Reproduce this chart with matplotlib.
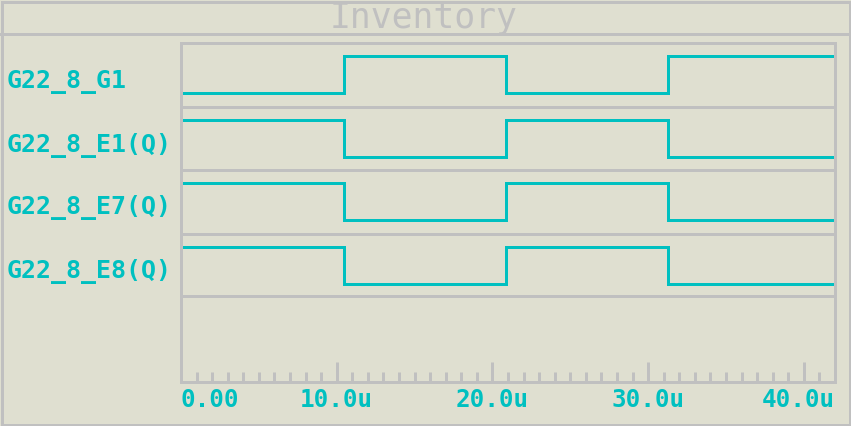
#!/usr/bin/env python3
"""Digital timing view 'Inventory' (logic analyser style)."""

import matplotlib
matplotlib.use("Agg")
import matplotlib.pyplot as plt
from matplotlib.patches import Rectangle

BG = "#dfdfd0"
GREY = "#c0c0c0"
CYAN = "#00c0c0"
MONO = "DejaVu Sans Mono"

# ---- data -------------------------------------------------------------
signal_names = ["G22_8_G1", "G22_8_E1(Q)", "G22_8_E7(Q)", "G22_8_E8(Q)"]
edge_times = [0.0, 10.45, 20.9, 31.3, 42.0]   # microseconds
g1_levels = [0, 1, 0, 1]
e1_levels = [1, 0, 1, 0]
e7_levels = [1, 0, 1, 0]
e8_levels = [1, 0, 1, 0]
tick_values = [0, 10, 20, 30, 40]
tick_labels = ["0.00", "10.0u", "20.0u", "30.0u", "40.0u"]
t_end = 42.0

# ---- layout (pixels on a 851x426 canvas) ------------------------------
W, H = 851, 426
PL, PR, PT, PB = 181, 835, 43, 382
row_tops = [43, 107, 170, 234]
separators = [107, 170, 234, 296]
LW = 2.16  # 3 px

fig = plt.figure(figsize=(W / 100, H / 100), dpi=100, facecolor=BG)

bg = fig.add_axes([0, 0, 1, 1])
bg.set_xlim(0, W)
bg.set_ylim(H, 0)
bg.axis("off")
bg.add_patch(Rectangle((1.5, 1.5), W - 3, H - 3, fill=False, ec=GREY, lw=LW))
bg.plot([0, W], [34, 34], color=GREY, lw=LW)
bg.text(424, 28, "Inventory", ha="center", va="baseline", color=GREY,
        fontsize=25, family=MONO)

for top, name in zip(row_tops, signal_names):
    bg.text(7, top + 44.5, name, ha="left", va="baseline", color=CYAN,
            fontsize=18, family=MONO, fontweight="bold")

ax = fig.add_axes([PL / W, 1 - PB / H, (PR - PL) / W, (PB - PT) / H])
ax.set_facecolor("none")
ax.set_xlim(0, t_end)
ax.set_ylim(PB, PT)
for s in ax.spines.values():
    s.set_color(GREY)
    s.set_linewidth(LW)

for y in separators:
    ax.axhline(y, color=GREY, lw=LW)

for top, levels in zip(row_tops, [g1_levels, e1_levels, e7_levels, e8_levels]):
    ys = [top + 50 - 37 * v for v in levels]
    ax.step(edge_times, ys + [ys[-1]], where="post", color=CYAN, lw=LW,
            solid_joinstyle="miter")

ax.set_xticks(tick_values)
ax.set_xticks(range(0, 42), minor=True)
ax.set_yticks([])
ax.tick_params(axis="x", which="both", direction="in", color=GREY,
               width=LW, labelbottom=False)
ax.tick_params(axis="x", which="major", length=14.4)
ax.tick_params(axis="x", which="minor", length=7.2)

xt = ax.get_xaxis_transform()
for i, (t, lab) in enumerate(zip(tick_values, tick_labels)):
    if i == 0:
        x, ha = t, "left"
    elif i == len(tick_values) - 1:
        x, ha = t_end, "right"
    else:
        x, ha = t, "center"
    ax.text(x, -25 / (PB - PT), lab, transform=xt, ha=ha, va="baseline",
            color=CYAN, fontsize=17.5, family=MONO, fontweight="bold")

fig.savefig("out.png", dpi=100, facecolor=BG)
